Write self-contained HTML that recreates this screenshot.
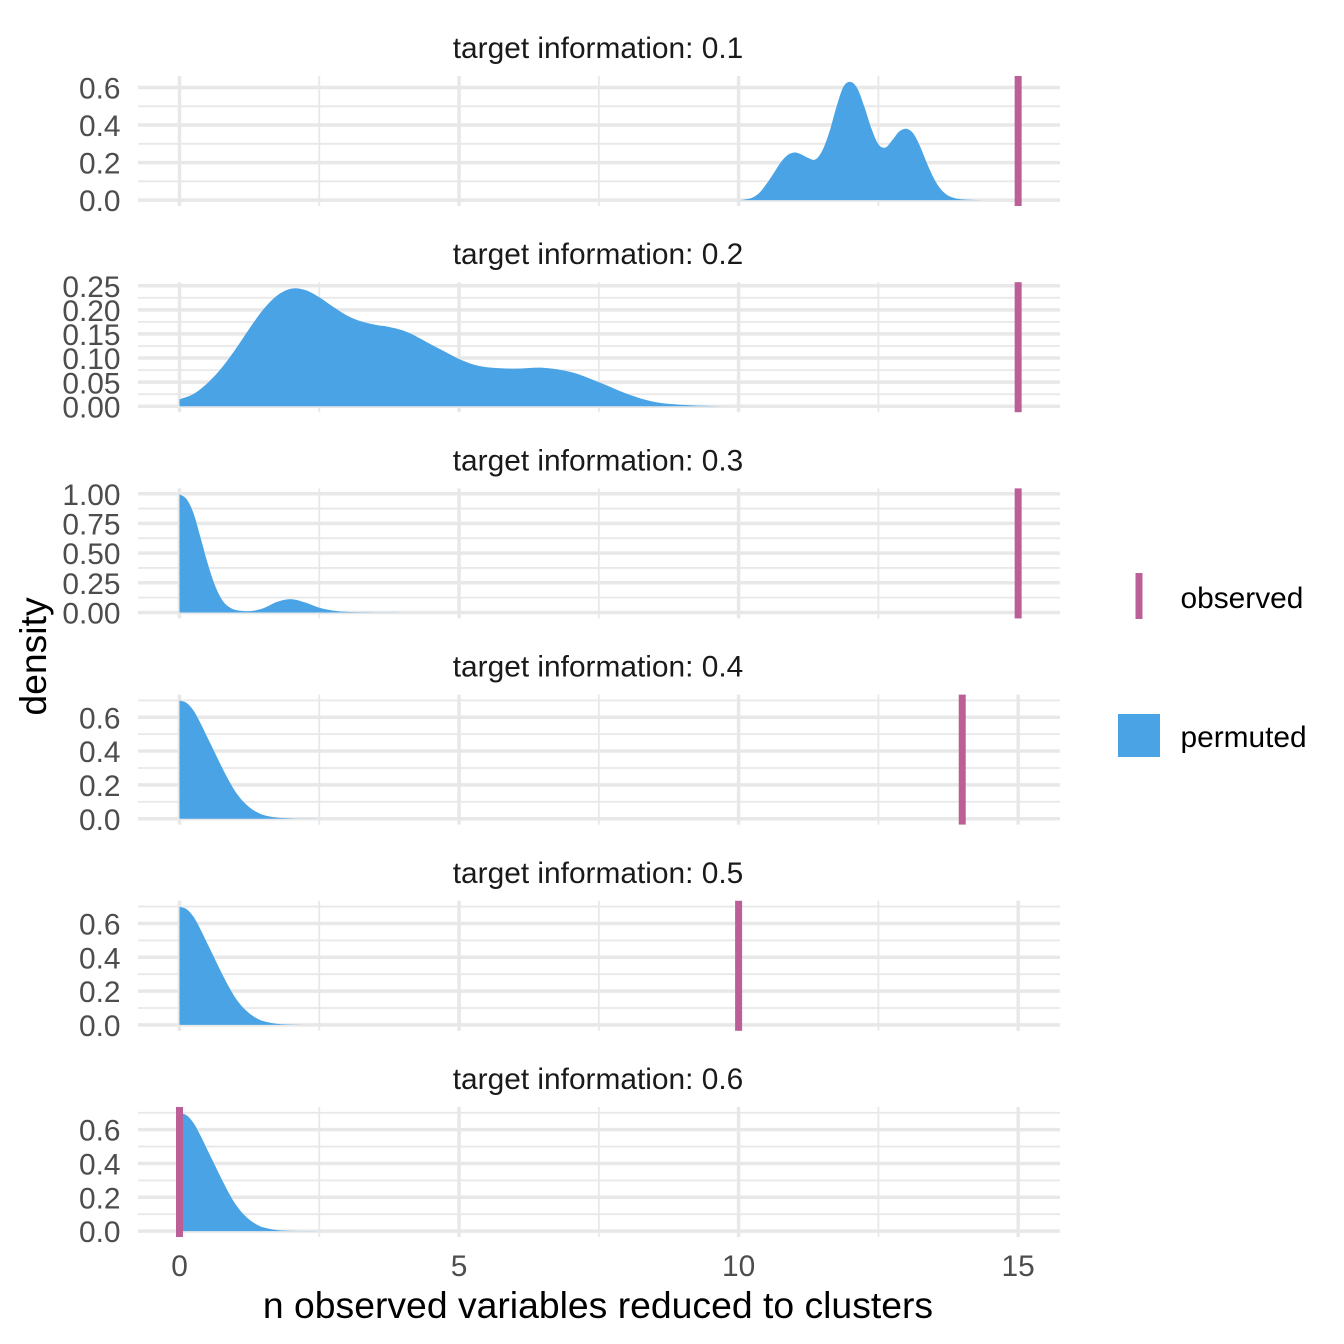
<!DOCTYPE html>
<html>
<head>
<meta charset="utf-8">
<title>Density facets</title>
<style>
html,body{margin:0;padding:0;background:#fff;width:1344px;height:1344px;overflow:hidden}
svg{display:block;font-family:"Liberation Sans",Arial,sans-serif}
</style>
</head>
<body>
<svg id="chart" xmlns="http://www.w3.org/2000/svg" width="1344" height="1344" viewBox="0 0 1344 1344">
  <rect x="0" y="0" width="1344" height="1344" fill="#ffffff"/>
  <g id="panels"></g>
  <g id="xticks"></g>
  <text x="598" y="1318" font-size="37.33" text-anchor="middle" fill="#000">n observed variables reduced to clusters</text>
  <text transform="translate(46,656.5) rotate(-90)" font-size="37.33" text-anchor="middle" fill="#000">density</text>
  <g>
    <g>
      <rect x="1135.5" y="573" width="7" height="46" fill="#BC5F96"/>
      <text x="1180.5" y="608" font-size="29.87" fill="#000">observed</text>
    </g>
    <g>
      <rect x="1118" y="714" width="42" height="43" fill="#4AA3E5"/>
      <text x="1180.5" y="747" font-size="29.87" fill="#000">permuted</text>
    </g>
  </g>
</svg>
<script>
// ---- data ----
var facetLabels = ["target information: 0.1","target information: 0.2","target information: 0.3","target information: 0.4","target information: 0.5","target information: 0.6"];
var observedValues = [15, 15, 15, 14, 10, 0];
var yDomainMax = [0.63, 0.245, 0.995, 0.699, 0.699, 0.699];

var xMajorTicks = [0, 5, 10, 15];
var xMinorTicks = [2.5, 7.5, 12.5];

var yTicks1 = [0, 0.2, 0.4, 0.6];
var yLabels1 = ["0.0","0.2","0.4","0.6"];
var yMinor1 = [0.1, 0.3, 0.5];
var yTicks2 = [0, 0.05, 0.1, 0.15, 0.2, 0.25];
var yLabels2 = ["0.00","0.05","0.10","0.15","0.20","0.25"];
var yMinor2 = [0.025, 0.075, 0.125, 0.175, 0.225];
var yTicks3 = [0, 0.25, 0.5, 0.75, 1];
var yLabels3 = ["0.00","0.25","0.50","0.75","1.00"];
var yMinor3 = [0.125, 0.375, 0.625, 0.875];
var yTicks4 = [0, 0.2, 0.4, 0.6];
var yLabels4 = ["0.0","0.2","0.4","0.6"];
var yMinor4 = [0.1, 0.3, 0.5, 0.7];

var densX1 = [10,10.125,10.25,10.375,10.5,10.625,10.75,10.875,11,11.125,11.25,11.375,11.5,11.625,11.75,11.875,12,12.125,12.25,12.375,12.5,12.625,12.75,12.875,13,13.125,13.25,13.375,13.5,13.625,13.75,13.875,14,14.25,14.5];
var densY1 = [0,0.004,0.014,0.04,0.087,0.142,0.2,0.24,0.254,0.243,0.224,0.217,0.266,0.364,0.497,0.604,0.63,0.595,0.497,0.382,0.298,0.28,0.32,0.366,0.38,0.355,0.284,0.192,0.112,0.055,0.024,0.01,0.0035,0.0005,0];
var densX2 = [0,0.25,0.5,0.75,1,1.25,1.5,1.75,2,2.25,2.5,2.75,3,3.25,3.5,3.75,4,4.25,4.5,4.75,5,5.25,5.5,6,6.5,7,7.5,8,8.5,9,9.5,10];
var densY2 = [0.0145,0.0256,0.048,0.079,0.118,0.161,0.201,0.23,0.244,0.241,0.226,0.206,0.188,0.176,0.169,0.1645,0.157,0.144,0.128,0.113,0.098,0.087,0.081,0.078,0.08,0.071,0.05,0.026,0.009,0.003,0.0007,0];
var densX3 = [0,0.125,0.25,0.375,0.5,0.625,0.75,0.875,1,1.25,1.5,1.75,2,2.25,2.5,2.75,3,3.5,4];
var densY3 = [0.995,0.955,0.837,0.634,0.42,0.24,0.115,0.05,0.022,0.011,0.036,0.09,0.112,0.084,0.04,0.016,0.005,0.001,0];
var densX4 = [0,0.125,0.25,0.375,0.5,0.625,0.75,0.875,1,1.125,1.25,1.375,1.5,1.75,2,2.25,2.5];
var densY4 = [0.699,0.685,0.64,0.565,0.48,0.395,0.31,0.23,0.16,0.107,0.068,0.04,0.022,0.006,0.0015,0.0003,0];
var densX5 = [0,0.125,0.25,0.375,0.5,0.625,0.75,0.875,1,1.125,1.25,1.375,1.5,1.75,2,2.25,2.5];
var densY5 = [0.699,0.685,0.64,0.565,0.48,0.395,0.31,0.23,0.16,0.107,0.068,0.04,0.022,0.006,0.0015,0.0003,0];
var densX6 = [0,0.125,0.25,0.375,0.5,0.625,0.75,0.875,1,1.125,1.25,1.375,1.5,1.75,2,2.25,2.5];
var densY6 = [0.699,0.685,0.64,0.565,0.48,0.395,0.31,0.23,0.16,0.107,0.068,0.04,0.022,0.006,0.0015,0.0003,0];

// ---- per-panel lookup ----
var allDensX = [densX1, densX2, densX3, densX4, densX5, densX6];
var allDensY = [densY1, densY2, densY3, densY4, densY5, densY6];
var allTicks = [yTicks1, yTicks2, yTicks3, yTicks4, yTicks4, yTicks4];
var allLabels = [yLabels1, yLabels2, yLabels3, yLabels4, yLabels4, yLabels4];
var allMinor = [yMinor1, yMinor2, yMinor3, yMinor4, yMinor4, yMinor4];

// ---- geometry ----
var NS = "http://www.w3.org/2000/svg";
var panelLeft = 138, panelRight = 1060, panelHeight = 130;
function panelTop(i) { return 76 + i * 206.2; }
function xScale(v) { return 179.5 + v * 55.91; }
function yScale(i, v) {
  var bottom = panelTop(i) + panelHeight;
  var m = yDomainMax[i];
  return bottom - (v + 0.05 * m) / (1.1 * m) * panelHeight;
}
function make(tag, attrs, parent) {
  var el = document.createElementNS(NS, tag);
  for (var k in attrs) el.setAttribute(k, attrs[k]);
  parent.appendChild(el);
  return el;
}
function areaPath(i, xs, ys) {
  var px = xs.map(xScale);
  var py = ys.map(function (v) { return yScale(i, v); });
  var base = yScale(i, 0);
  var d = "M" + px[0].toFixed(2) + "," + base.toFixed(2) + "L" + px[0].toFixed(2) + "," + py[0].toFixed(2);
  for (var j = 0; j < px.length - 1; j++) {
    var a = Math.max(j - 1, 0), c = j + 1, e = Math.min(j + 2, px.length - 1);
    var h = px[c] - px[j];
    var s1 = (py[c] - py[a]) / (px[c] - px[a]);
    var s2 = (py[e] - py[j]) / (px[e] - px[j]);
    d += "C" + (px[j] + h / 3).toFixed(2) + "," + (py[j] + s1 * h / 3).toFixed(2) + " " +
         (px[c] - h / 3).toFixed(2) + "," + (py[c] - s2 * h / 3).toFixed(2) + " " +
         px[c].toFixed(2) + "," + py[c].toFixed(2);
  }
  d += "L" + px[px.length - 1].toFixed(2) + "," + base.toFixed(2) + "Z";
  return d;
}

var panelsRoot = document.getElementById("panels");
var xticksRoot = document.getElementById("xticks");
var GRID = "#E8E8E8";

facetLabels.forEach(function (label, i) {
  var top = panelTop(i), bottom = top + panelHeight;
  var g = make("g", {}, panelsRoot);
  
  

  var title = make("text", { x: 598, y: top - 18, "font-size": 29.87, "text-anchor": "middle", fill: "#1A1A1A" }, g);
  
  
  title.textContent = label;

  allMinor[i].forEach(function (v) {
    var ln = make("line", { x1: panelLeft, x2: panelRight, y1: yScale(i, v), y2: yScale(i, v), stroke: GRID, "stroke-width": 1.8 }, g);
    
    
  });
  xMinorTicks.forEach(function (v) {
    var ln = make("line", { x1: xScale(v), x2: xScale(v), y1: top, y2: bottom, stroke: GRID, "stroke-width": 1.8 }, g);
    
    
  });
  allTicks[i].forEach(function (v, k) {
    var ln = make("line", { x1: panelLeft, x2: panelRight, y1: yScale(i, v), y2: yScale(i, v), stroke: GRID, "stroke-width": 3.5 }, g);
    
    
    var t = make("text", { x: 120.5, y: yScale(i, v) + 11.1, "font-size": 29.87, "text-anchor": "end", fill: "#4D4D4D" }, g);
    
    
    t.textContent = allLabels[i][k];
  });
  xMajorTicks.forEach(function (v) {
    var ln = make("line", { x1: xScale(v), x2: xScale(v), y1: top, y2: bottom, stroke: GRID, "stroke-width": 3.5 }, g);
    
    
  });

  var area = make("path", { d: areaPath(i, allDensX[i], allDensY[i]), fill: "#4AA3E5" }, g);
  
  

  var obs = make("rect", { x: xScale(observedValues[i]) - 3.5, y: top, width: 7, height: panelHeight, fill: "#BC5F96" }, g);
  
  
});

xMajorTicks.forEach(function (v) {
  var t = make("text", { x: xScale(v), y: 1276, "font-size": 29.87, "text-anchor": "middle", fill: "#4D4D4D" }, xticksRoot);
  
  
  t.textContent = String(v);
});
</script>
</body>
</html>
